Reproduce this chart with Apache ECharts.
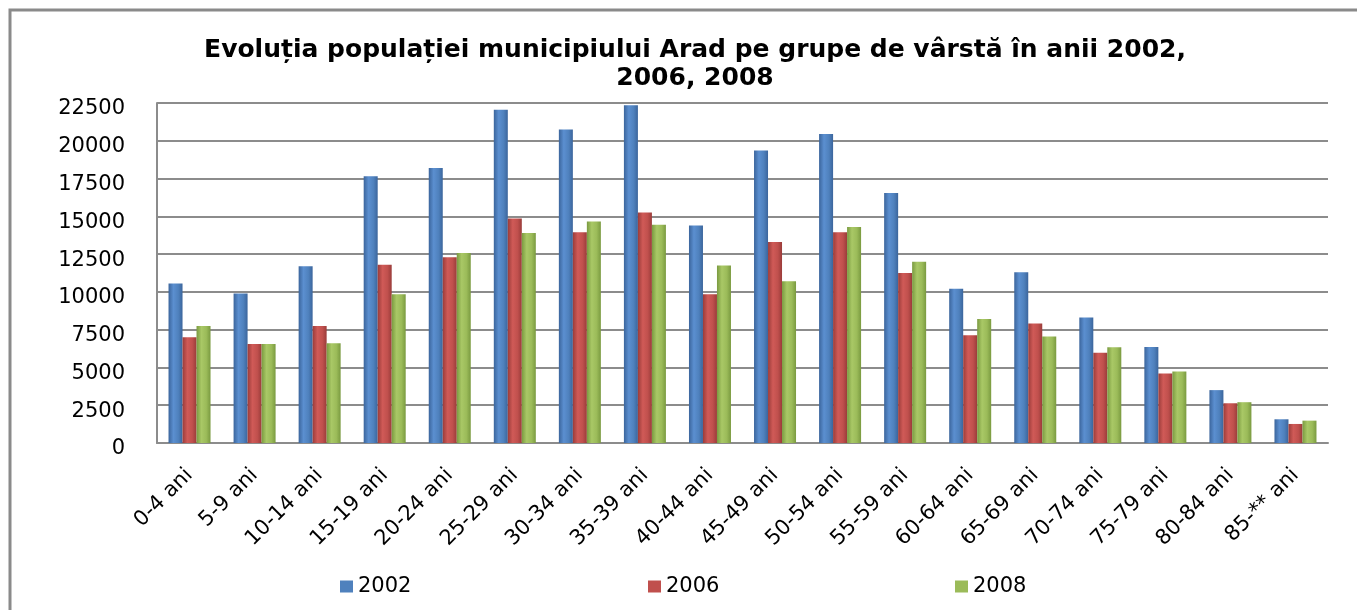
<!DOCTYPE html>
<html>
<head>
<meta charset="utf-8">
<script src="https://cdn.jsdelivr.net/npm/echarts@6/dist/echarts.min.js"></script>
<style>
  html, body { margin: 0; padding: 0; background: #fff; }
  #main { width: 1357px; height: 610px; }
</style>
</head>
<body>
<div id="main"></div>
<script>
// grupe de varsta
var categorii = ['0-4 ani', '5-9 ani', '10-14 ani', '15-19 ani', '20-24 ani', '25-29 ani',
    '30-34 ani', '35-39 ani', '40-44 ani', '45-49 ani', '50-54 ani', '55-59 ani',
    '60-64 ani', '65-69 ani', '70-74 ani', '75-79 ani', '80-84 ani', '85-** ani'];

var ani = ['2002', '2006', '2008'];

var pop2002 = [10550, 9900, 11700, 17650, 18200, 22050, 20750, 22350, 14400, 19350,
    20450, 16550, 10200, 11300, 8300, 6350, 3500, 1570];
var pop2006 = [7000, 6550, 7750, 11800, 12300, 14850, 13950, 15250, 9850, 13300,
    13950, 11250, 7130, 7900, 5980, 4600, 2630, 1260];
var pop2008 = [7750, 6550, 6600, 9850, 12580, 13900, 14650, 14450, 11750, 10700,
    14300, 12000, 8200, 7050, 6330, 4730, 2700, 1480];

var culori = ['#4F81BD', '#C0504D', '#9BBB59'];
var margini = ['#3b659c', '#9a3c3a', '#7a9a40'];
var centre = ['#5b8fd0', '#d05a57', '#a9c866'];

function cilindru(i) {
    // gradient orizontal ca sa arate a cilindru
    return new echarts.graphic.LinearGradient(0, 0, 1, 0, [
        { offset: 0, color: margini[i] },
        { offset: 0.35, color: centre[i] },
        { offset: 0.7, color: culori[i] },
        { offset: 1, color: margini[i] }
    ]);
}

var myChart = echarts.init(document.getElementById('main'));

var font = 'DejaVu Sans';
var serii = [pop2002, pop2006, pop2008].map(function (date, i) {
    return {
        name: ani[i],
        type: 'bar',
        data: date,
        barWidth: 14,
        barGap: '0%',
        itemStyle: { color: cilindru(i) }
    };
});

function legenda(i, x) {
    return {
        data: [{ name: ani[i], itemStyle: { color: culori[i] } }],
        left: x,
        top: 571,
        itemWidth: 13,
        itemHeight: 12,
        itemGap: 0,
        icon: 'rect',
        textStyle: { fontFamily: font, fontSize: 21, color: '#000' }
    };
}

myChart.setOption({
    animation: false,
    title: {
        text: 'Evoluția populației municipiului Arad pe grupe de vârstă în anii 2002,\n2006, 2008',
        left: 690,
        textAlign: 'center',
        top: 31,
        textStyle: {
            fontFamily: font,
            fontWeight: 'bold',
            fontSize: 25,
            lineHeight: 28,
            color: '#000'
        }
    },
    legend: [legenda(0, 335), legenda(1, 643), legenda(2, 950)],
    grid: { left: 157, right: 29, top: 103, bottom: 167 },
    xAxis: {
        type: 'category',
        data: categorii,
        axisTick: { show: false },
        axisLine: { lineStyle: { color: '#8c8c8c', width: 2 } },
        axisLabel: {
            rotate: 45,
            margin: 29,
            interval: 0,
            fontFamily: font,
            fontSize: 21,
            color: '#000'
        }
    },
    yAxis: {
        type: 'value',
        min: 0,
        max: 22500,
        interval: 2500,
        axisLine: { show: true, lineStyle: { color: '#8c8c8c', width: 2 } },
        axisTick: { show: false },
        splitLine: { lineStyle: { color: '#8c8c8c', width: 2 } },
        axisLabel: {
            margin: 32,
            fontFamily: font,
            fontSize: 21,
            color: '#000',
            verticalAlign: 'top',
            lineHeight: 12,
            formatter: function (v) { return String(v); }
        }
    },
    graphic: [{
        type: 'rect',
        shape: { x: 10, y: 10, width: 1400, height: 700 },
        style: { fill: 'none', stroke: '#8a8a8a', lineWidth: 3 },
        silent: true
    }],
    series: serii
});
</script>
</body>
</html>
